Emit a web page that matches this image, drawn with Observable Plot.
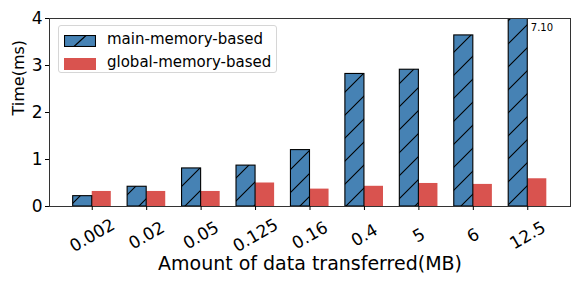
<!DOCTYPE html>
<html><head><meta charset="utf-8">
<script src="https://cdn.jsdelivr.net/npm/d3@7"></script>
<script src="https://cdn.jsdelivr.net/npm/@observablehq/plot@0.6"></script>
<style>
body{margin:0;background:#fff;font-family:"DejaVu Sans",sans-serif;}
#wrap{position:relative;width:581px;height:291px;overflow:hidden;}
#wrap svg{display:block;}
.legend{position:absolute;left:58px;top:25px;width:219px;height:48px;box-sizing:border-box;border:1px solid #d6d6d6;border-radius:3px;background:rgba(255,255,255,0.85);font-family:"DejaVu Sans",sans-serif;font-size:15px;color:#000;}
.legend .item{position:absolute;left:5px;height:17px;line-height:17px;white-space:nowrap;}
.legend .item svg{position:absolute;left:0;top:3px;}
.legend .item span{position:absolute;left:43px;top:-1px;}
</style></head><body><div id="wrap"></div>
<script>
const categories = ["0.002","0.02","0.05","0.125","0.16","0.4","5","6","12.5"];
const mainMemory = [0.22,0.42,0.81,0.87,1.20,2.82,2.91,3.64,7.10];
const globalMemory = [0.32,0.32,0.32,0.50,0.37,0.43,0.49,0.47,0.59];
const seriesNames = ["main-memory-based","global-memory-based"];
const yTicks = [0,1,2,3,4];
const annotations = [{category: "12.5", value: 3.8, label: "7.10"}];

const barWidth = 0.35;
const blue = "#4682b4", red = "#d9534f";
const idx = categories.map((c, i) => i);
const rows = [];
categories.forEach((c, i) => {
  rows.push({i, series: seriesNames[0], x1: i - barWidth, x2: i, value: mainMemory[i]});
  rows.push({i, series: seriesNames[1], x1: i, x2: i + barWidth, value: globalMemory[i]});
});
const mainRows = rows.filter(d => d.series === seriesNames[0]);
const globalRows = rows.filter(d => d.series === seriesNames[1]);
const ann = annotations.map(a => ({...a, i: categories.indexOf(a.category)}));

const chart = Plot.plot({
  width: 581, height: 291,
  marginLeft: 49, marginRight: 11, marginTop: 18, marginBottom: 85,
  style: {fontFamily: "DejaVu Sans, sans-serif", color: "#000", background: "#fff"},
  x: {type: "linear", domain: [-0.785, categories.length - 1 + 0.785], axis: null},
  y: {domain: [0, 4], axis: null},
  marks: [
    Plot.rect(globalRows, {x1: "x1", x2: "x2", y1: 0, y2: "value", fill: red, clip: true}),
    Plot.rect(mainRows, {x1: "x1", x2: "x2", y1: 0, y2: "value", fill: blue, clip: true}),
    Plot.rect(mainRows, {x1: "x1", x2: "x2", y1: 0, y2: "value", fill: "url(#hatch)", stroke: "#000", strokeWidth: 1.1, clip: true}),
    Plot.frame({stroke: "#333", strokeWidth: 1}),
    Plot.axisY({ticks: yTicks, tickSize: 4, tickPadding: 3, fontSize: 17, label: null, tickFormat: d => String(d)}),
    Plot.axisX({ticks: idx, tickSize: 4, tickFormat: () => "", label: null}),
    Plot.text(idx, {x: d => d, y: 0, text: d => categories[d], dy: 29, rotate: -30, textAnchor: "middle", fontSize: 17}),
    Plot.text(ann, {x: d => d.i, y: "value", text: "label", dx: 3, textAnchor: "start", fontSize: 10}),
    Plot.text(["Amount of data transferred(MB)"], {frameAnchor: "bottom", dy: 63, fontSize: 19}),
    Plot.text(["Time(ms)"], {frameAnchor: "left", dx: -31, dy: 3, rotate: -90, fontSize: 16})
  ]
});

const ns = "http://www.w3.org/2000/svg";
function addHatch(svg, id, size) {
  const defs = document.createElementNS(ns, "defs");
  const pat = document.createElementNS(ns, "pattern");
  pat.setAttribute("id", id);
  pat.setAttribute("patternUnits", "userSpaceOnUse");
  pat.setAttribute("width", size);
  pat.setAttribute("height", size);
  const p = document.createElementNS(ns, "path");
  p.setAttribute("d", `M0,${size} L${size},0 M-4,4 L4,-4 M${size-4},${size+4} L${size+4},${size-4}`);
  p.setAttribute("stroke", "#000");
  p.setAttribute("stroke-width", "1.1");
  p.setAttribute("fill", "none");
  pat.appendChild(p);
  defs.appendChild(pat);
  svg.insertBefore(defs, svg.firstChild);
}
addHatch(chart, "hatch", 23);
const wrap = document.getElementById("wrap");
wrap.appendChild(chart);

const legend = document.createElement("div");
legend.className = "legend";
const swatches = [
  `<svg width="32" height="12"><rect x="0.5" y="0.5" width="31" height="11" fill="${blue}"/><path d="M10,11.5 L22,0.5" stroke="#000" stroke-width="1.1"/><rect x="0.5" y="0.5" width="31" height="11" fill="none" stroke="#000" stroke-width="1.1"/></svg>`,
  `<svg width="32" height="12"><rect x="0" y="0" width="32" height="12" fill="${red}"/></svg>`
];
seriesNames.forEach((name, k) => {
  const it = document.createElement("div");
  it.className = "item";
  it.style.top = (6 + k * 23) + "px";
  it.innerHTML = swatches[k] + `<span>${name}</span>`;
  legend.appendChild(it);
});
wrap.appendChild(legend);
</script></body></html>
